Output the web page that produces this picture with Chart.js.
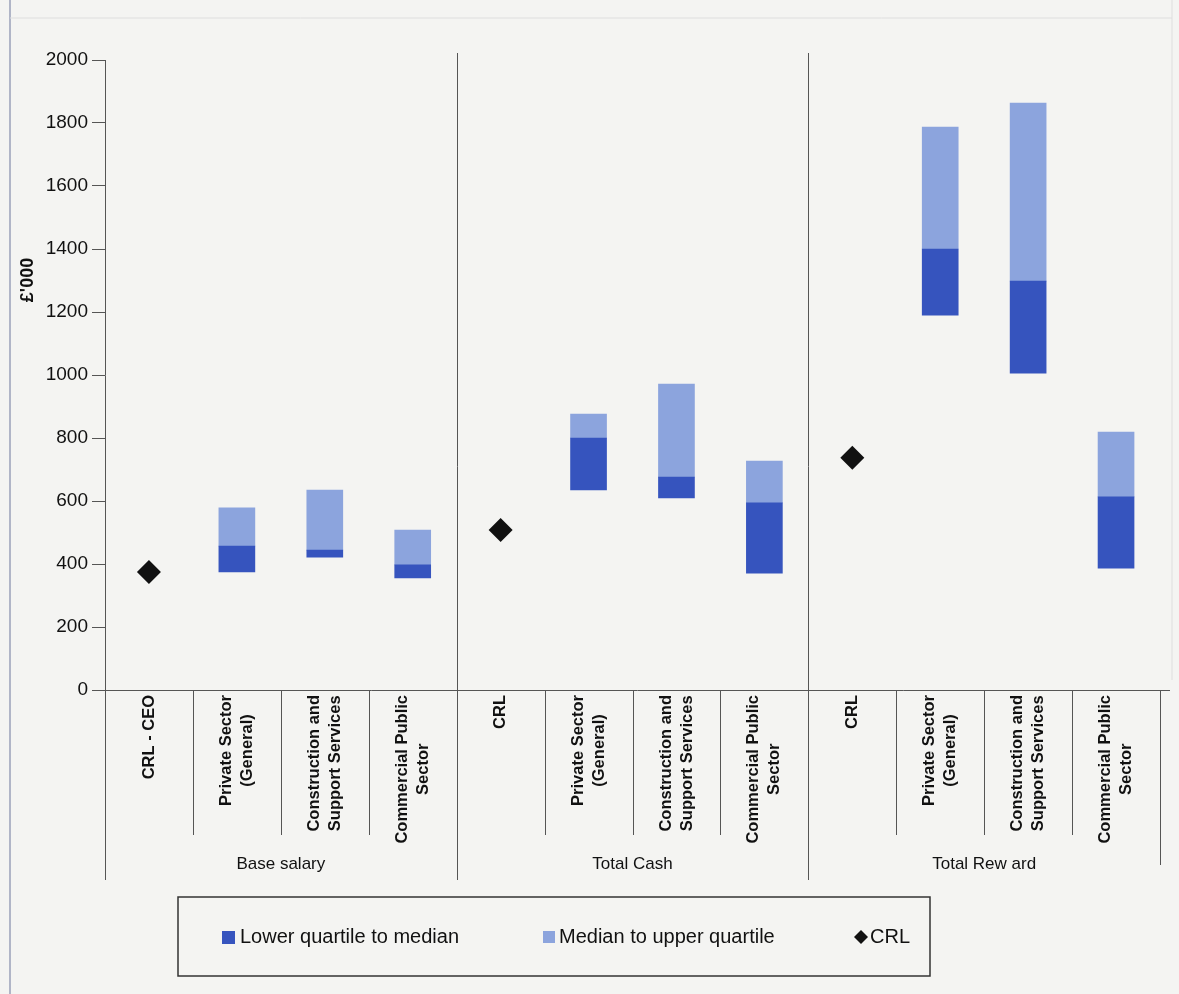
<!DOCTYPE html>
<html>
<head>
<meta charset="utf-8">
<script src="https://cdn.jsdelivr.net/npm/chart.js@4/dist/chart.umd.min.js"></script>
<style>
  html, body { margin: 0; padding: 0; background: #f4f4f2; }
  canvas { display: block; }
</style>
</head>
<body>
<canvas id="payChart" width="1179" height="994"></canvas>
<script>
// Category labels (one entry per column, lines of the rotated label)
const categoryLabels = [
  ['CRL - CEO'], ['Private Sector', '(General)'], ['Construction and', 'Support Services'], ['Commercial Public', 'Sector'],
  ['CRL'], ['Private Sector', '(General)'], ['Construction and', 'Support Services'], ['Commercial Public', 'Sector'],
  ['CRL'], ['Private Sector', '(General)'], ['Construction and', 'Support Services'], ['Commercial Public', 'Sector']
];
const groupLabels = ['Base salary', 'Total Cash', 'Total Rew ard'];
const groupSize = 4;

// £'000 values
const lowerQuartile = [null, 375, 422, 356, null, 635, 610, 371, null, 1190, 1006, 387];
const medianValues  = [null, 457, 444, 397, null, 800, 676, 594, null, 1400, 1298, 613];
const upperQuartile = [null, 578, 635, 508, null, 876, 971, 727, null, 1787, 1863, 819];
const crlValues     = [375, null, null, null, 508, null, null, null, 737, null, null, null];

const yTicks = { min: 0, max: 2000, step: 200 };

const DARK = '#3654be';
const LIGHT = '#8ca4dd';
const FONT = '"Liberation Sans", Arial, sans-serif';

/**
 * Draws the table-like category axis, group dividers, y title and boxed legend
 */
const tableAxisPlugin = {
  id: 'tableAxis',
  afterDraw(chart) {
    const ctx = chart.ctx;
    const area = chart.chartArea;
    const x = chart.scales.x;
    const n = categoryLabels.length;
    const step = x.getPixelForValue(1) - x.getPixelForValue(0);
    const boundary = i => x.getPixelForValue(0) - step / 2 + i * step;

    ctx.save();

    // outer frame (scanned page edge)
    ctx.strokeStyle = '#9aa0b8';
    ctx.lineWidth = 1.5;
    ctx.beginPath();
    ctx.moveTo(10, 0); ctx.lineTo(10, 994);
    ctx.stroke();
    ctx.strokeStyle = '#dedede';
    ctx.lineWidth = 1;
    ctx.beginPath();
    ctx.moveTo(10, 18); ctx.lineTo(1172, 18);
    ctx.moveTo(1172, 0); ctx.lineTo(1172, 680);
    ctx.stroke();

    // horizontal axis line
    ctx.strokeStyle = '#555';
    ctx.lineWidth = 1;
    ctx.beginPath();
    ctx.moveTo(area.left, area.bottom + 0.5);
    ctx.lineTo(area.right + 10, area.bottom + 0.5);
    ctx.stroke();

    // dividers
    ctx.beginPath();
    for (let i = 0; i <= n; i++) {
      const bx = Math.round(boundary(i)) + 0.5;
      if (i % groupSize === 0) {
        const top = (i === 0 || i === n) ? area.bottom : 53;
        const bottom = i === n ? 865 : 880;
        ctx.moveTo(bx, top);
        ctx.lineTo(bx, bottom);
      } else {
        ctx.moveTo(bx, area.bottom);
        ctx.lineTo(bx, 835);
      }
    }
    ctx.stroke();

    // rotated category labels
    ctx.fillStyle = '#111';
    ctx.font = 'bold 16.5px ' + FONT;
    ctx.textAlign = 'center';
    ctx.textBaseline = 'middle';
    const lineH = 21;
    categoryLabels.forEach((lines, i) => {
      const cx = x.getPixelForValue(i);
      const maxLen = Math.max(...lines.map(l => ctx.measureText(l).width));
      const cy = area.bottom + 5 + maxLen / 2;
      lines.forEach((line, j) => {
        const off = (j - (lines.length - 1) / 2) * lineH;
        ctx.save();
        ctx.translate(cx + off, cy);
        ctx.rotate(-Math.PI / 2);
        ctx.fillText(line, 0, 0);
        ctx.restore();
      });
    });

    // group labels
    ctx.font = '17px ' + FONT;
    groupLabels.forEach((g, k) => {
      const gx = (boundary(k * groupSize) + boundary((k + 1) * groupSize)) / 2;
      ctx.fillText(g, gx, 864);
    });

    // y axis title
    ctx.font = 'bold 18px ' + FONT;
    ctx.save();
    ctx.translate(28, 280);
    ctx.rotate(-Math.PI / 2);
    ctx.fillText("£'000", 0, 0);
    ctx.restore();

    // legend box
    ctx.strokeStyle = '#333';
    ctx.lineWidth = 1.5;
    ctx.strokeRect(178, 897, 752, 79);
    ctx.font = '20px ' + FONT;
    ctx.textAlign = 'left';
    const ds = chart.data.datasets;
    const ly = 937;
    ctx.fillStyle = ds[0].backgroundColor;
    ctx.fillRect(222, ly - 6, 13, 13);
    ctx.fillStyle = ds[1].backgroundColor;
    ctx.fillRect(543, ly - 6, 12, 12);
    ctx.fillStyle = '#111';
    ctx.fillText(ds[0].label, 240, ly);
    ctx.fillText(ds[1].label, 559, ly);
    ctx.beginPath();
    ctx.moveTo(861, ly - 7); ctx.lineTo(868, ly); ctx.lineTo(861, ly + 7); ctx.lineTo(854, ly);
    ctx.closePath();
    ctx.fill();
    ctx.fillText(ds[2].label, 870, ly);

    ctx.restore();
  }
};

const toRange = (lo, hi) => lo.map((v, i) => (v == null ? null : [v, hi[i]]));

new Chart(document.getElementById('payChart'), {
  type: 'bar',
  data: {
    labels: categoryLabels,
    datasets: [
      {
        label: 'Lower quartile to median',
        data: toRange(lowerQuartile, medianValues),
        backgroundColor: DARK,
        grouped: false,
        barThickness: 36,
        order: 2
      },
      {
        label: 'Median to upper quartile',
        data: toRange(medianValues, upperQuartile),
        backgroundColor: LIGHT,
        grouped: false,
        barThickness: 36,
        order: 2
      },
      {
        type: 'line',
        label: 'CRL',
        data: crlValues,
        showLine: false,
        pointStyle: 'rectRot',
        pointRadius: 12,
        pointHoverRadius: 12,
        backgroundColor: '#111',
        borderColor: '#111',
        borderWidth: 0,
        order: 1
      }
    ]
  },
  options: {
    responsive: false,
    animation: false,
    layout: { padding: { top: 60, right: 19, left: 0, bottom: 0 } },
    plugins: {
      legend: { display: false },
      tooltip: { enabled: false }
    },
    scales: {
      x: {
        grid: { display: false },
        border: { display: false },
        ticks: { display: false },
        afterFit: s => { s.height = 304; }
      },
      y: {
        min: yTicks.min,
        max: yTicks.max,
        ticks: {
          stepSize: yTicks.step,
          color: '#111',
          padding: 4,
          font: { family: FONT, size: 19 },
          callback: v => String(v)
        },
        grid: { drawOnChartArea: false, tickLength: 13, color: '#555' },
        border: { color: '#555' },
        afterFit: s => { s.width = 105; }
      }
    }
  },
  plugins: [tableAxisPlugin]
});
</script>
</body>
</html>
